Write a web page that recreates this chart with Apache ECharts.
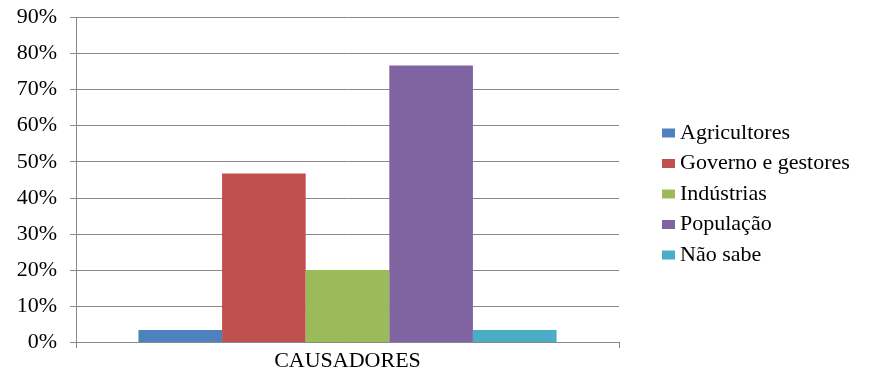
<!DOCTYPE html>
<html><head><meta charset="utf-8">
<script src="https://cdn.jsdelivr.net/npm/echarts@6/dist/echarts.min.js"></script>
<style>html,body{margin:0;padding:0;background:#fff}#c{width:871px;height:372px}</style>
</head><body><div id="c"></div>
<script>
var categories = ['CAUSADORES'];
var seriesNames = ['Agricultores', 'Governo e gestores', 'Indústrias', 'População', 'Não sabe'];
var seriesValues = [3.3, 46.7, 20.0, 76.7, 3.3];
var colors = ['#4F81BD', '#C0504D', '#9BBB59', '#8064A2', '#4BACC6'];
var yTicks = [0, 10, 20, 30, 40, 50, 60, 70, 80, 90];

var font = 'Liberation Serif';
var chart = echarts.init(document.getElementById('c'));
chart.setOption({
  animation: false,
  color: colors,
  textStyle: {fontFamily: font},
  grid: {left: 76, right: 252, top: 17.5, bottom: 28.5, containLabel: false},
  legend: {
    orient: 'vertical', left: 657, top: 117,
    itemWidth: 13, itemHeight: 9, itemGap: 8.5,
    icon: 'rect',
    textStyle: {fontFamily: font, fontSize: 22, color: '#000'},
    data: seriesNames
  },
  xAxis: {
    type: 'category', data: categories,
    axisLine: {lineStyle: {color: '#888', width: 1}},
    axisTick: {show: true, length: 6, lineStyle: {color: '#888'}},
    axisLabel: {fontFamily: font, fontSize: 22, color: '#000', margin: 8}
  },
  yAxis: {
    type: 'value', min: yTicks[0], max: yTicks[yTicks.length - 1], interval: 10,
    axisLine: {show: true, lineStyle: {color: '#888'}},
    axisTick: {show: true, length: 6, lineStyle: {color: '#888'}},
    axisLabel: {fontFamily: font, fontSize: 22, color: '#000', margin: 19, formatter: '{value}%'},
    splitLine: {lineStyle: {color: '#888', width: 1}}
  },
  series: seriesNames.map(function (n, i) {
    return {
      name: n, type: 'bar', data: [seriesValues[i]],
      barGap: '0%', barCategoryGap: '23%',
      itemStyle: {color: colors[i]}
    };
  })
});
</script></body></html>
